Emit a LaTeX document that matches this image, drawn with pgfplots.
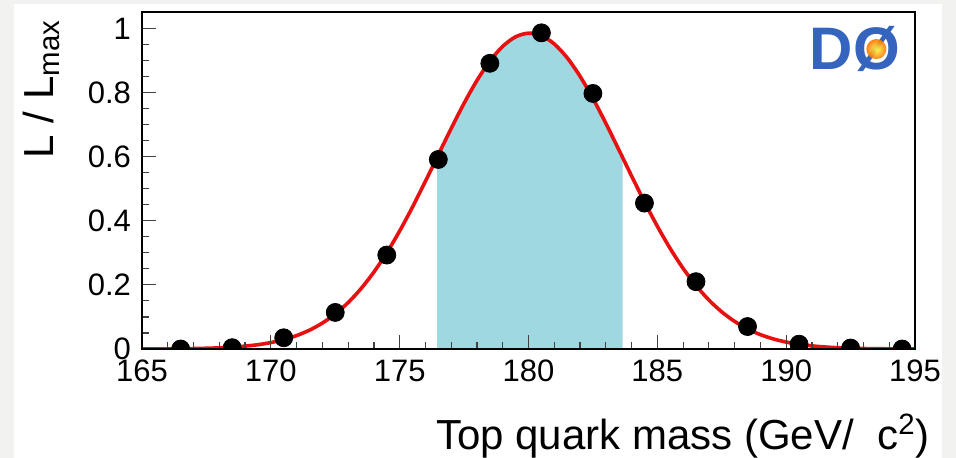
\documentclass[border=0pt]{standalone}
\usepackage{fontspec}
\setmainfont{Liberation Sans}
\usepackage{pgfplots}
\pgfplotsset{compat=1.18}
\definecolor{curvered}{RGB}{232,16,16}
\definecolor{bandcyan}{RGB}{160,216,225}
\definecolor{slidegray}{RGB}{242,242,241}
\definecolor{dzeroblue}{RGB}{52,100,190}

\begin{document}
\begin{tikzpicture}
\useasboundingbox (-71pt,-54.5pt) rectangle (407pt,174.5pt);
\fill[slidegray] (-71pt,-54.5pt) rectangle (407pt,174.5pt);
\fill[white] (-64pt,-54.5pt) rectangle (400pt,172.5pt);
\begin{axis}[
    at={(0,0)}, anchor=south west,
    scale only axis,
    width=386.5pt, height=168.5pt,
    xmin=165, xmax=195,
    ymin=0, ymax=1.051,
    xtick={165,170,...,195},
    ytick={0,0.2,0.4,0.6,0.8,1},
    minor x tick num=4,
    minor y tick num=3,
    tick align=inside,
    xtick pos=bottom,
    ytick pos=left,
    major tick length=7pt,
    minor tick length=3.5pt,
    tick style={line width=0.6pt, black!75},
    axis line style={line width=0.9pt},
    axis on top,
    clip marker paths=true,
    /pgf/number format/assume math mode=true,
    xticklabel style={font=\fontsize{15.5}{17}\selectfont, yshift=-2pt},
    yticklabel style={font=\fontsize{15.5}{17}\selectfont, xshift=-2pt},
    xlabel={Top quark mass (GeV/\ \ c\textsuperscript{2})},
    ylabel={L / L\textsubscript{max}},
    xlabel style={font=\fontsize{21}{24}\selectfont, inner sep=0pt,
        at={(axis description cs:1.0194,-0.2997)}, anchor=base east},
    ylabel style={font=\fontsize{21}{24}\selectfont, inner sep=0pt,
        at={(axis description cs:-0.1151,0.7715)}, anchor=base},
]
% 1 sigma band
\addplot[fill=bandcyan, draw=none] coordinates {
(176.45,0.5974) (176.5,0.6058) (177,0.6879) (177.5,0.7664) (178,0.8375)
(178.5,0.8978) (179,0.9440) (179.5,0.9736) (180,0.9849) (180.5,0.9773)
(181,0.9513) (181.5,0.9083) (182,0.8506) (182.5,0.7814) (183,0.7041)
(183.5,0.6223) (183.65,0.5974)
} \closedcycle;
% fitted curve
\addplot[curvered, line width=1.8pt, smooth] coordinates {
(165,0.0002) (165.5,0.0003) (166,0.0005) (166.5,0.0008) (167,0.0014)
(167.5,0.0023) (168,0.0036) (168.5,0.0057) (169,0.0089) (169.5,0.0134)
(170,0.0200) (170.5,0.0292) (171,0.0418) (171.5,0.0587) (172,0.0809)
(172.5,0.1092) (173,0.1447) (173.5,0.1882) (174,0.2400) (174.5,0.3002)
(175,0.3682) (175.5,0.4431) (176,0.5231) (176.5,0.6058) (177,0.6879)
(177.5,0.7664) (178,0.8375) (178.5,0.8978) (179,0.9440) (179.5,0.9736)
(180,0.9849) (180.5,0.9773) (181,0.9513) (181.5,0.9083) (182,0.8506)
(182.5,0.7814) (183,0.7041) (183.5,0.6223) (184,0.5396) (184.5,0.4588)
(185,0.3828) (185.5,0.3132) (186,0.2514) (186.5,0.1979) (187,0.1528)
(187.5,0.1157) (188,0.0860) (188.5,0.0627) (189,0.0448) (189.5,0.0314)
(190,0.0216) (190.5,0.0146) (191,0.0097) (191.5,0.0063) (192,0.0040)
(192.5,0.0025) (193,0.0015) (193.5,0.0009) (194,0.0005) (194.5,0.0003)
(195,0.0002)
};
% likelihood points
\addplot[only marks, mark=*, mark size=4.5pt, black] coordinates {
(166.5,0.000) (168.5,0.004) (170.5,0.035) (172.5,0.114) (174.5,0.293)
(176.5,0.591) (178.5,0.891) (180.5,0.986) (182.5,0.797) (184.5,0.455)
(186.5,0.210) (188.5,0.070) (190.5,0.015) (192.5,0.003) (194.5,0.000)
};
% experiment logo
\node[font=\fontsize{30}{30}\selectfont\bfseries, text=dzeroblue, inner sep=0pt]
  at (axis description cs:0.922,0.89) {DØ};
\shade[inner color=yellow!70!white, outer color=orange!90!red, opacity=0.9]
  (axis description cs:0.95,0.89) circle[radius=5pt];
\end{axis}
\end{tikzpicture}
\end{document}
